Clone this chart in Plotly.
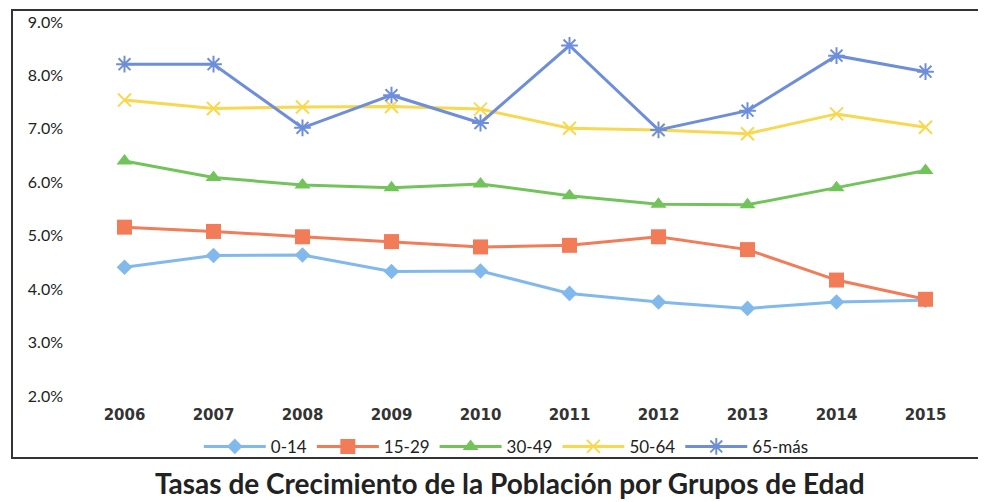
import plotly.graph_objects as go

years = ["2006", "2007", "2008", "2009", "2010", "2011", "2012", "2013", "2014", "2015"]
g_0_14 = [4.41, 4.63, 4.64, 4.33, 4.34, 3.92, 3.76, 3.64, 3.76, 3.79]
g_15_29 = [5.16, 5.08, 4.98, 4.89, 4.79, 4.82, 4.98, 4.74, 4.17, 3.81]
g_30_49 = [6.40, 6.09, 5.95, 5.90, 5.97, 5.75, 5.59, 5.58, 5.90, 6.22]
g_50_64 = [7.54, 7.38, 7.41, 7.42, 7.37, 7.01, 6.98, 6.91, 7.28, 7.03]
g_65 = [8.21, 8.21, 7.02, 7.63, 7.11, 8.56, 6.98, 7.34, 8.37, 8.07]
y_ticks = [2, 3, 4, 5, 6, 7, 8, 9]
y_tick_text = ["2.0%", "3.0%", "4.0%", "5.0%", "6.0%", "7.0%", "8.0%", "9.0%"]
title_text = "Tasas de Crecimiento de la Población por Grupos de Edad"

series = [
    ("0-14", g_0_14, "#82B9EC", "diamond", 12, 0),
    ("15-29", g_15_29, "#F27B58", "square", 15, 0),
    ("30-49", g_30_49, "#72C45A", "triangle-up", 14, 0),
    ("50-64", g_50_64, "#F8D84E", "x-thin-open", 13, 2),
    ("65-más", g_65, "#6E8EDA", "asterisk-open", 14, 2),
]

fig = go.Figure()
for name, vals, color, sym, size, lw in series:
    fig.add_trace(go.Scatter(
        x=years, y=vals, name=name, mode="lines+markers",
        line=dict(color=color, width=3),
        marker=dict(symbol=sym, size=size, color=color,
                    line=dict(color=color, width=lw)),
    ))

fig.update_layout(
    width=978, height=494,
    margin=dict(l=72, r=16, t=14, b=106, autoexpand=False),
    paper_bgcolor="white", plot_bgcolor="white",
    font=dict(family="Lato, Liberation Sans, sans-serif", color="#222"),
    xaxis=dict(type="category", range=[-0.5, 9.5], showgrid=False, showline=False,
               zeroline=False, automargin=False, ticks="",
               tickfont=dict(size=15, family="DejaVu Sans", weight="bold", color="#333"),
               ticklabelstandoff=8),
    yaxis=dict(range=[2, 9], tickvals=y_ticks, ticktext=y_tick_text,
               automargin=False, showgrid=False, showline=False, zeroline=False,
               ticks="", ticklabelstandoff=16,
               tickfont=dict(size=16, family="Lato", color="#222")),
    legend=dict(orientation="h", x=0.479, xanchor="center", y=-0.136, yanchor="middle",
                font=dict(size=17, family="Lato", color="#222"),
                itemwidth=62, traceorder="normal", bgcolor="rgba(0,0,0,0)",
                tracegroupgap=0),
    title=dict(text="<b>" + title_text + "</b>", x=0.513, xanchor="center",
               y=0.036, yanchor="middle", automargin=False,
               font=dict(size=28, family="Lato", color="#222")),
    shapes=[dict(type="rect", xref="paper", yref="paper",
                 x0=-0.0764, x1=1.05, y0=-0.166, y1=1.032,
                 line=dict(color="#333", width=2))],
)

fig.write_html("out.html")
